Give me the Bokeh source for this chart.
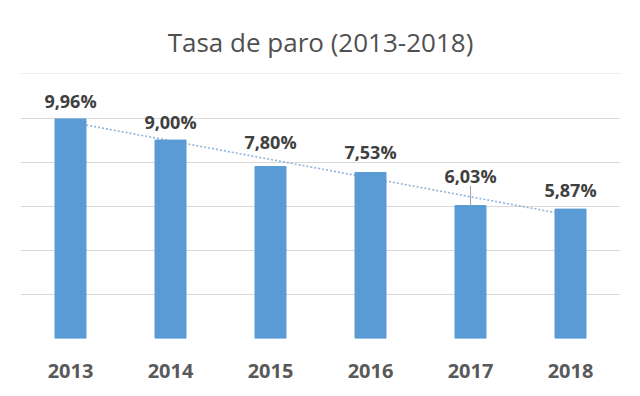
import numpy as np
from bokeh.plotting import figure
from bokeh.models import ColumnDataSource, SingleIntervalTicker
from bokeh.core.properties import value
from bokeh.embed import file_html
from bokeh.resources import INLINE

# ---- data ----
years = ["2013", "2014", "2015", "2016", "2017", "2018"]
rates = [9.96, 9.00, 7.80, 7.53, 6.03, 5.87]
rate_labels = ["9,96%", "9,00%", "7,80%", "7,53%", "6,03%", "5,87%"]
title_text = "Tasa de paro (2013-2018)"

# style: extra pixel lift of each data label above its bar
label_lift = [18, 18, 25, 20, 30, 19]

# linear trend line (least squares over category index, as the original trendline)
idx = np.arange(len(rates))
slope, intercept = np.polyfit(idx, rates, 1)
trend_y = [intercept, intercept + slope * (len(rates) - 1)]
trend_x = [years[0], years[-1]]

p = figure(
    x_range=years, y_range=(0, 12.02),
    width=632, height=388,
    output_backend="svg", toolbar_location=None,
    min_border_left=20, min_border_right=12,
    min_border_top=73, min_border_bottom=50,
)
p.outline_line_color = None
p.background_fill_color = "white"
p.border_fill_color = "white"

# title
p.title.text = title_text
p.title.align = "center"
p.title.text_font = "Open Sans"
p.title.text_font_size = "26px"
p.title.text_font_style = "normal"
p.title.text_color = "#505050"
p.title.standoff = 27

# grid
p.xgrid.grid_line_color = None
p.ygrid.grid_line_color = "#D9D9D9"
p.ygrid.grid_line_width = 1
p.yaxis.visible = False
p.yaxis.ticker = SingleIntervalTicker(interval=2)

# x axis
xa = p.xaxis[0]
xa.axis_line_color = None
xa.major_tick_line_color = None
xa.minor_tick_line_color = None
xa.major_tick_out = 0
xa.major_label_standoff = 25
xa.major_label_text_font = "Open Sans"
xa.major_label_text_font_size = "20px"
xa.major_label_text_font_style = "bold"
xa.major_label_text_color = "#595959"

# trend line (behind bars)
p.line(x=trend_x, y=trend_y, line_color="#8FB3DA", line_width=1.6,
       line_dash="2 2")

src = ColumnDataSource(dict(x=years, y=rates, lab=rate_labels,
                            off=[-v for v in label_lift]))
p.vbar(x="x", top="y", width=0.31, source=src,
       fill_color="#5B9BD5", line_color="#5B9BD5")

# leader line for the 2017 label
p.segment(x0=[years[4]], y0=[rates[4]], x1=[years[4]], y1=[rates[4] + 0.9],
          line_color="#A6A6A6", line_width=1)

p.text(x="x", y="y", text="lab", source=src, y_offset="off",
       text_align="center", text_baseline="alphabetic",
       text_font=value("Open Sans"), text_font_size="18px",
       text_font_style="bold", text_color="#404040")

open("out.html", "w").write(file_html(p, INLINE))
